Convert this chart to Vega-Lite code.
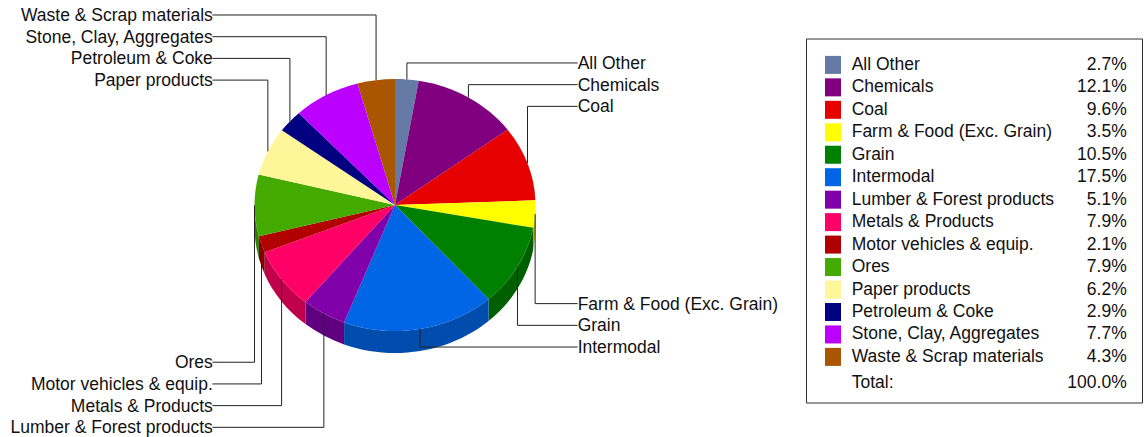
{
"$schema":"https://vega.github.io/schema/vega-lite/v6.json",
"padding":0,
"bounds":"flush",
"center":true,
"spacing":16,
"background":"white",
"config":{"view":{"stroke":null},"text":{"font":"Liberation Sans","fontSize":17.5,"color":"#111"}},
"datasets":{"slices":[
{"name":"All Other","share":0.027},
{"name":"Chemicals","share":0.121},
{"name":"Coal","share":0.096},
{"name":"Farm & Food (Exc. Grain)","share":0.035},
{"name":"Grain","share":0.105},
{"name":"Intermodal","share":0.175},
{"name":"Lumber & Forest products","share":0.051},
{"name":"Metals & Products","share":0.079},
{"name":"Motor vehicles & equip.","share":0.021},
{"name":"Ores","share":0.079},
{"name":"Paper products","share":0.062},
{"name":"Petroleum & Coke","share":0.029},
{"name":"Stone, Clay, Aggregates","share":0.077},
{"name":"Waste & Scrap materials","share":0.043}
]},
"hconcat":[
{
"width":790,"height":441,
"data":{"name":"slices"},
"transform":[
{"window":[{"op":"sum","field":"share","as":"cum"},{"op":"row_number","as":"i"}]},
{"calculate":"2*PI*datum.cum","as":"a1"},
{"calculate":"datum.a1-2*PI*datum.share","as":"a0"},
{"calculate":"(datum.a0+datum.a1)/2","as":"mid"},
{"calculate":"sin(datum.mid)","as":"lx"},
{"calculate":"(datum.lx>0?1:-1)*1.3","as":"labelX"},
{"calculate":"datum.i<=3?1.21+datum.i:datum.i<=6?9.3+datum.i:datum.i<=10?26-datum.i:14-datum.i","as":"slot"},
{"calculate":"8.756-5.806*cos(datum.mid)","as":"anchor"},
{"calculate":"4/3*tan((datum.a1-datum.a0)/4)","as":"h"},
{"calculate":"'M0,0L'+sin(datum.a0)+','+(-0.8968*cos(datum.a0))+'C'+(sin(datum.a0)+datum.h*cos(datum.a0))+','+(-0.8968*cos(datum.a0)+0.8968*datum.h*sin(datum.a0))+','+(sin(datum.a1)-datum.h*cos(datum.a1))+','+(-0.8968*cos(datum.a1)-0.8968*datum.h*sin(datum.a1))+','+sin(datum.a1)+','+(-0.8968*cos(datum.a1))+'Z'","as":"topPath"}
],
"layer":[
{
"transform":[
{"calculate":"max(datum.a0,PI/2)","as":"b0"},
{"calculate":"min(datum.a1,3*PI/2)","as":"b1"},
{"filter":"datum.b1>datum.b0"},
{"calculate":"4/3*tan((datum.b1-datum.b0)/4)","as":"g"},
{"calculate":"'M'+sin(datum.b0)+','+(-0.8968*cos(datum.b0))+'C'+(sin(datum.b0)+datum.g*cos(datum.b0))+','+(-0.8968*cos(datum.b0)+0.8968*datum.g*sin(datum.b0))+','+(sin(datum.b1)-datum.g*cos(datum.b1))+','+(-0.8968*cos(datum.b1)-0.8968*datum.g*sin(datum.b1))+','+sin(datum.b1)+','+(-0.8968*cos(datum.b1))+'L'+sin(datum.b1)+','+(0.1566-0.8968*cos(datum.b1))+'C'+(sin(datum.b1)-datum.g*cos(datum.b1))+','+(0.1566-0.8968*cos(datum.b1)-0.8968*datum.g*sin(datum.b1))+','+(sin(datum.b0)+datum.g*cos(datum.b0))+','+(0.1566-0.8968*cos(datum.b0)+0.8968*datum.g*sin(datum.b0))+','+sin(datum.b0)+','+(0.1566-0.8968*cos(datum.b0))+'Z'","as":"wallPath"}
],
"mark":{"type":"point","filled":true,"opacity":1,"size":78961},
"encoding":{
"x":{"datum":0,"type":"quantitative","scale":{"domain":[-2.8114,2.8114]},"axis":null},
"y":{"datum":8.756,"type":"quantitative","scale":{"domain":[-0.691,19.63],"reverse":true},"axis":null},
"shape":{"field":"wallPath","type":"nominal","scale":null,"legend":null},
"fill":{"field":"name","type":"nominal","legend":null,"scale":{
"domain":["Farm & Food (Exc. Grain)","Grain","Intermodal","Lumber & Forest products","Metals & Products","Motor vehicles & equip.","Ores"],
"range":["#C0C000","#006000","#004DAD","#600080","#C0004D","#840000","#338000"]}}
}
},
{
"mark":{"type":"point","filled":true,"opacity":1,"size":78961},
"encoding":{
"x":{"datum":0,"type":"quantitative","scale":{"domain":[-2.8114,2.8114]},"axis":null},
"y":{"datum":8.756,"type":"quantitative","scale":{"domain":[-0.691,19.63],"reverse":true},"axis":null},
"shape":{"field":"topPath","type":"nominal","scale":null,"legend":null},
"color":{"field":"name","type":"nominal","legend":null,"scale":{
"domain":["All Other","Chemicals","Coal","Farm & Food (Exc. Grain)","Grain","Intermodal","Lumber & Forest products","Metals & Products","Motor vehicles & equip.","Ores","Paper products","Petroleum & Coke","Stone, Clay, Aggregates","Waste & Scrap materials"],
"range":["#647AA5","#800080","#E60000","#FFFF00","#008000","#0066E6","#8000AA","#FF0066","#B00000","#44AA00","#FFF599","#000080","#BB00FF","#AA5500"]}}
}
},
{
"mark":{"type":"rule","stroke":"#222","strokeWidth":1},
"encoding":{
"x":{"field":"lx","type":"quantitative","scale":{"domain":[-2.8114,2.8114]},"axis":null},
"x2":{"field":"labelX"},
"y":{"field":"slot","type":"quantitative","scale":{"domain":[-0.691,19.63],"reverse":true},"axis":null}
}
},
{
"mark":{"type":"rule","stroke":"#222","strokeWidth":1},
"encoding":{
"x":{"field":"lx","type":"quantitative","scale":{"domain":[-2.8114,2.8114]},"axis":null},
"y":{"field":"slot","type":"quantitative","scale":{"domain":[-0.691,19.63],"reverse":true},"axis":null},
"y2":{"field":"anchor"}
}
},
{
"transform":[{"filter":"datum.lx<0"}],
"mark":{"type":"text","align":"right","baseline":"middle","dy":1,"dx":0.5},
"encoding":{
"x":{"field":"labelX","type":"quantitative","scale":{"domain":[-2.8114,2.8114]},"axis":null},
"y":{"field":"slot","type":"quantitative","scale":{"domain":[-0.691,19.63],"reverse":true},"axis":null},
"text":{"field":"name"}
}
},
{
"transform":[{"filter":"datum.lx>0"}],
"mark":{"type":"text","align":"left","baseline":"middle","dy":1},
"encoding":{
"x":{"field":"labelX","type":"quantitative","scale":{"domain":[-2.8114,2.8114]},"axis":null},
"y":{"field":"slot","type":"quantitative","scale":{"domain":[-0.691,19.63],"reverse":true},"axis":null},
"text":{"field":"name"}
}
}
]
},
{
"width":336,"height":364,
"view":{"stroke":"#333","strokeWidth":1},
"layer":[
{
"data":{"name":"slices"},
"transform":[{"window":[{"op":"row_number","as":"row"}]}],
"mark":{"type":"rect","width":16,"height":18},
"encoding":{
"x":{"datum":0.0804,"type":"quantitative","scale":{"domain":[0,1]},"axis":null},
"y":{"field":"row","type":"quantitative","scale":{"domain":[-0.175,16.03],"reverse":true},"axis":null},
"color":{"field":"name","type":"nominal","legend":null,"scale":{
"domain":["All Other","Chemicals","Coal","Farm & Food (Exc. Grain)","Grain","Intermodal","Lumber & Forest products","Metals & Products","Motor vehicles & equip.","Ores","Paper products","Petroleum & Coke","Stone, Clay, Aggregates","Waste & Scrap materials"],
"range":["#647AA5","#800080","#E60000","#FFFF00","#008000","#0066E6","#8000AA","#FF0066","#B00000","#44AA00","#FFF599","#000080","#BB00FF","#AA5500"]}}
}
},
{
"data":{"name":"slices"},
"transform":[{"window":[{"op":"row_number","as":"row"}]}],
"mark":{"type":"text","align":"left","baseline":"middle"},
"encoding":{
"x":{"datum":0.136,"type":"quantitative","scale":{"domain":[0,1]},"axis":null},
"y":{"field":"row","type":"quantitative","scale":{"domain":[-0.175,16.03],"reverse":true},"axis":null},
"text":{"field":"name"}
}
},
{
"data":{"name":"slices"},
"transform":[{"window":[{"op":"row_number","as":"row"}]}],
"mark":{"type":"text","align":"right","baseline":"middle"},
"encoding":{
"x":{"datum":0.9545,"type":"quantitative","scale":{"domain":[0,1]},"axis":null},
"y":{"field":"row","type":"quantitative","scale":{"domain":[-0.175,16.03],"reverse":true},"axis":null},
"text":{"field":"share","format":".1%"}
}
},
{
"data":{"values":[{"name":"Total:","share":1}]},
"mark":{"type":"text","align":"left","baseline":"middle"},
"encoding":{
"x":{"datum":0.136,"type":"quantitative","scale":{"domain":[0,1]},"axis":null},
"y":{"datum":15.145,"type":"quantitative","scale":{"domain":[-0.175,16.03],"reverse":true},"axis":null},
"text":{"field":"name"}
}
},
{
"data":{"values":[{"name":"Total:","share":1}]},
"mark":{"type":"text","align":"right","baseline":"middle"},
"encoding":{
"x":{"datum":0.9545,"type":"quantitative","scale":{"domain":[0,1]},"axis":null},
"y":{"datum":15.145,"type":"quantitative","scale":{"domain":[-0.175,16.03],"reverse":true},"axis":null},
"text":{"field":"share","format":".1%"}
}
}
]
}
]
}
